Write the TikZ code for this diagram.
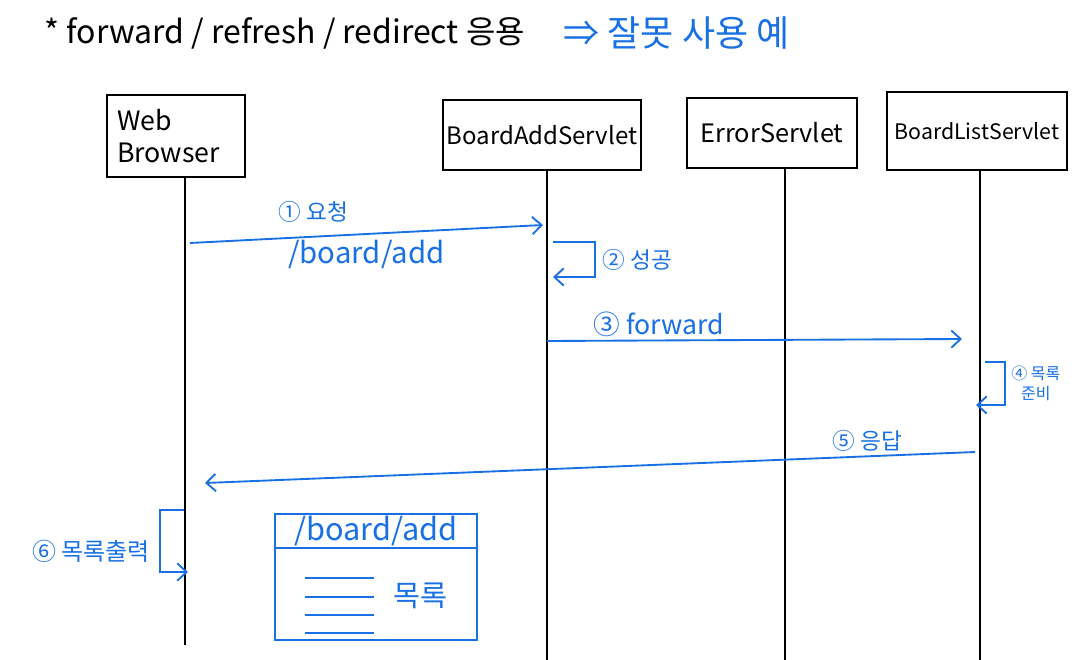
\documentclass[tikz,border=0pt]{standalone}
\usepackage{fontspec}
\setmainfont{Noto Sans CJK KR}
\usepackage{xcolor}
\usetikzlibrary{positioning,arrows.meta}
\definecolor{pen}{RGB}{24,112,228}
\tikzset{
  part/.style ={rectangle, draw=black, line width=1.4pt, align=center,
                inner sep=3pt, font=\fontsize{18}{21}\selectfont},
  life/.style ={draw=black, line width=1.6pt},
  msg/.style  ={-{Straight Barb[length=7pt,width=13pt]}, draw=pen, line width=1.4pt},
  lbl/.style  ={text=pen, font=\fontsize{17}{19}\selectfont, inner sep=1pt},
  page/.style ={rectangle, draw=pen, line width=1.4pt, minimum width=152pt,
                minimum height=94pt},
}

\begin{document}
\begin{tikzpicture}[x=0.75pt, y=-0.75pt]
  \useasboundingbox (0,0) rectangle (1075,660);

  % title
  \node[anchor=west, font=\fontsize{24}{26}\selectfont] (title) at (40,33)
    {* forward / refresh / redirect 응용};
  \node[right=22pt of title, text=pen, font=\fontsize{27}{30}\selectfont] (wrong)
    {⇒ 잘못 사용 예};

  % participants
  \node[part, text width=88pt, align=left, minimum width=103pt, minimum height=62pt,
        font=\fontsize{20}{24}\selectfont] (wb) at (176,136) {Web\\Browser};
  \node[part, minimum width=149pt, minimum height=53pt] (add) at (542,135) {BoardAddServlet};
  \node[part, minimum width=127pt, minimum height=53pt, font=\fontsize{19}{22}\selectfont] (err) at (772,133) {ErrorServlet};
  \node[part, minimum width=135pt, minimum height=58pt, font=\fontsize{16}{19}\selectfont] (list) at (977,131) {BoardListServlet};

  % lifelines
  \coordinate (wb-end) at (185,645);
  \coordinate (add-end) at (547,660);
  \coordinate (err-end) at (785,660);
  \coordinate (list-end) at (980,660);
  \foreach \p in {wb,add,err,list}{\draw[life] (\p.south -| \p-end) -- (\p-end);}

  % 1 request
  \coordinate (req-s) at (190,243);
  \coordinate (req-e) at (543,225);
  \draw[msg] (req-s) -- (req-e)
    node[lbl, pos=0.35, above=9pt] {① 요청}
    node[lbl, pos=0.5, below=3pt, font=\fontsize{22}{24}\selectfont] {/board/add};

  % 2 success
  \coordinate (ok-s) at (553,242);
  \coordinate (ok-e) at (553,277);
  \draw[msg] (ok-s) -- ++(42,0) |- (ok-e) node[lbl, pos=0.25, right=4pt] {② 성공};

  % 3 forward
  \coordinate (fw-s) at (547,341);
  \coordinate (fw-e) at (962,339);
  \draw[msg] (fw-s) -- (fw-e) node[lbl, pos=0.27, above=1pt, font=\fontsize{20}{22}\selectfont] {③ forward};

  % 4 list
  \coordinate (ls-s) at (985,362);
  \coordinate (ls-e) at (976,405);
  \draw[msg] (ls-s) -- ++(20,0) |- (ls-e)
    node[lbl, pos=0.25, right=3pt, align=center, font=\fontsize{12}{15}\selectfont] {④ 목록\\준비};

  % 5 response
  \coordinate (res-s) at (975,452);
  \coordinate (res-e) at (205,483);
  \draw[msg] (res-s) -- (res-e) node[lbl, pos=0.14, above=2pt] {⑤ 응답};

  % 6 output
  \coordinate (out-s) at (184,510);
  \coordinate (out-e) at (188,572);
  \draw[msg] (out-s) -- ++(-24,0) |- (out-e)
    node[lbl, pos=0.25, left=6pt, yshift=-8pt, font=\fontsize{18}{20}\selectfont] {⑥ 목록출력};

  % result page
  \node[page] (pg) at (376,577) {};
  \node[lbl, below=1pt of pg.north, font=\fontsize{23}{26}\selectfont] (url) {/board/add};
  \draw[pen, line width=1.2pt] (pg.west |- url.south) -- (pg.east |- url.south);
  \foreach \y in {578,597,615,633}{\draw[pen, line width=1.2pt] (305,\y) -- (374,\y);}
  \node[lbl, font=\fontsize{22}{24}\selectfont] (items) at (420,596) {목록};
\end{tikzpicture}
\end{document}
